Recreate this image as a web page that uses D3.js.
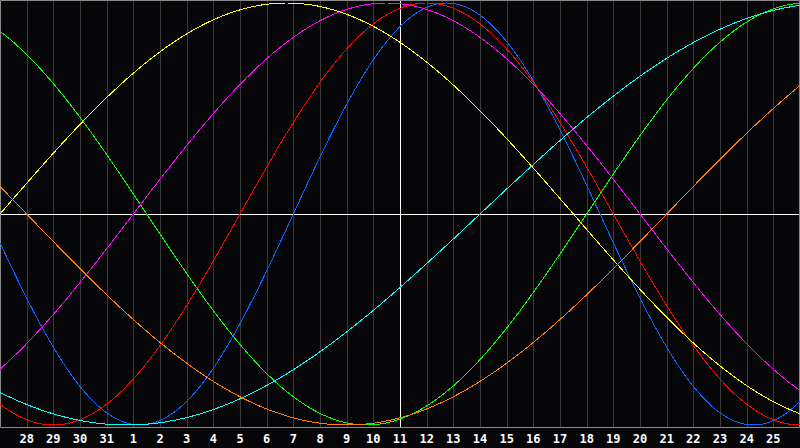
<!DOCTYPE html>
<html>
<head>
<meta charset="utf-8">
<script src="https://cdn.jsdelivr.net/npm/d3@7"></script>
<style>
  html, body { margin: 0; padding: 0; background: #060609; }
  svg { display: block; }
</style>
</head>
<body>
<script>
// day labels along the bottom (index 0 is the 27th, off the left edge)
const dayLabels = [27, 28, 29, 30, 31, 1, 2, 3, 4, 5, 6, 7, 8, 9, 10, 11, 12, 13, 14, 15, 16, 17, 18, 19, 20, 21, 22, 23, 24, 25, 26];
// cycle lengths in days and their colours
const cycleNames = ["physical", "emotional", "intellectual", "intuitive", "aesthetic", "awareness", "spiritual"];
const cyclePeriods = [23, 28, 33, 38, 43, 48, 53];
const cycleColors = ["#0a64ff", "#ff0000", "#00ff00", "#ff00ff", "#ffff00", "#ff8000", "#00ffff"];
// days lived on the marked day, and where that day sits
const daysLived = 14678;
const todayIndex = 15;

const width = 800, height = 448;
const plotBottom = 427;

const svg = d3.select("body").append("svg")
  .attr("width", width)
  .attr("height", height);

svg.append("rect")
  .attr("width", width)
  .attr("height", height)
  .attr("fill", "#060609");

let x = d3.scaleLinear().domain([0, dayLabels.length - 1]).range([0, width]);
let y = d3.scaleLinear().domain([-1, 1]).range([425, 3]);

// day grid
svg.append("g")
  .selectAll("line")
  .data(d3.range(1, dayLabels.length - 1))
  .enter()
  .append("line")
  .attr("x1", (d) => Math.round(x(d)) + 0.5)
  .attr("x2", (d) => Math.round(x(d)) + 0.5)
  .attr("y1", 0)
  .attr("y2", plotBottom)
  .attr("stroke", "#3a3a3a")
  .attr("stroke-width", 1);

// frame
svg.append("path")
  .attr("d", `M0.5,${plotBottom + 0.5}V0.5H799.5V${plotBottom + 0.5}H0.5`)
  .attr("fill", "none")
  .attr("stroke", "#8a8a8a")
  .attr("stroke-width", 1);

// centre cross
svg.append("line")
  .attr("x1", 1).attr("x2", width - 1)
  .attr("y1", Math.round(y(0)) + 0.5).attr("y2", Math.round(y(0)) + 0.5)
  .attr("stroke", "#ffffff");
svg.append("line")
  .attr("x1", Math.round(x(todayIndex)) + 0.5).attr("x2", Math.round(x(todayIndex)) + 0.5)
  .attr("y1", 1).attr("y2", plotBottom)
  .attr("stroke", "#ffffff");

// cycles
let steps = d3.range(0, dayLabels.length - 1 + 0.01, 0.05);
let line = d3.line()
  .x((d) => x(d.t))
  .y((d) => y(d.v));

svg.append("g")
  .selectAll("path")
  .data(cyclePeriods.map((p, i) => ({
    name: cycleNames[i],
    color: cycleColors[i],
    points: steps.map((t) => ({
      t: t,
      v: Math.sin(2 * Math.PI * (daysLived - todayIndex + t) / p)
    }))
  })))
  .enter()
  .append("path")
  .attr("d", (d) => line(d.points))
  .attr("fill", "none")
  .attr("stroke", (d) => d.color)
  .attr("stroke-width", 1)
  .attr("shape-rendering", "crispEdges");

// day labels
svg.append("g")
  .selectAll("text")
  .data(dayLabels.slice(1, -1))
  .enter()
  .append("text")
  .text((d) => d)
  .attr("x", (d, i) => x(i + 1))
  .attr("y", 443)
  .attr("text-anchor", "middle")
  .attr("font-family", "DejaVu Sans Mono, monospace")
  .attr("font-size", 12)
  .attr("font-weight", "bold")
  .attr("fill", "#ffffff");
</script>
</body>
</html>
